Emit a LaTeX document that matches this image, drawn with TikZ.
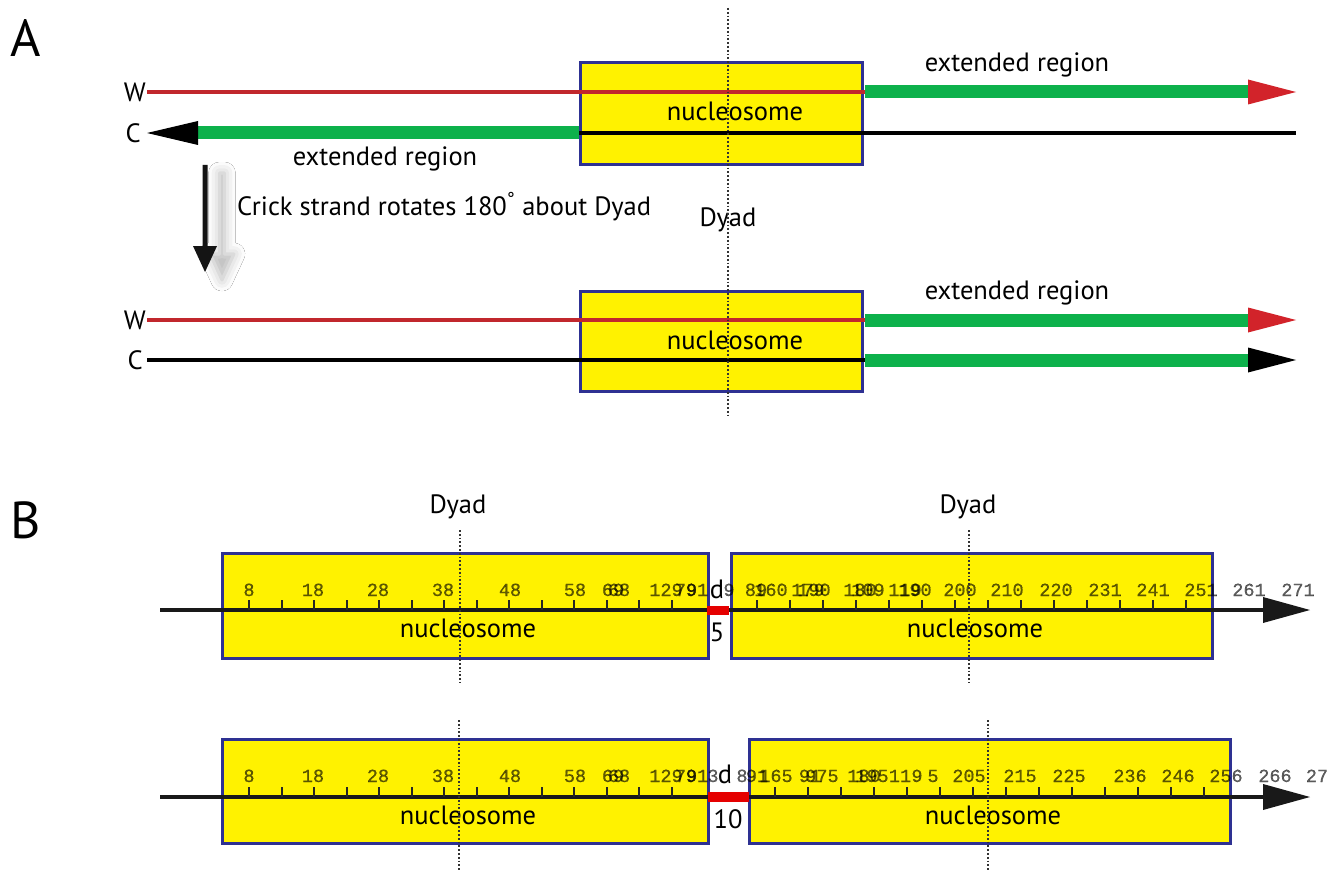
\documentclass[tikz,border=0pt]{standalone}
\usepackage{fontspec}
\setmainfont{PT Sans}
\newfontfamily\monof[FakeBold=0.6]{Liberation Mono}
\usetikzlibrary{shadows.blur}
\definecolor{nucY}{HTML}{FFF200}
\definecolor{nucB}{HTML}{2E3192}
\definecolor{wred}{HTML}{C1272D}
\definecolor{extg}{HTML}{0DB14B}
\definecolor{arrred}{HTML}{D2232A}
\tikzset{
  nucbox/.style={draw=nucB, line width=3pt, fill=nucY, inner sep=0pt},
  lbl/.style={font=\fontsize{26.5}{30}\selectfont, inner sep=0pt, anchor=base},
  big/.style={font=\fontsize{52}{58}\selectfont, inner sep=0pt, anchor=base},
  ticklbl/.style={font=\monof\fontsize{18.5}{20}\selectfont, inner sep=0pt, anchor=base, text=black, text opacity=0.62},
  wstrand/.style={wred, line width=3.2pt},
  cstrand/.style={black, line width=3.5pt},
  ext/.style={extg, line width=13pt},
  dyadline/.style={line width=1.8pt, dotted, black!80},
  axisline/.style={line width=4pt, black!90},
  tickmark/.style={line width=2pt, black!85},
  gapbar/.style={red!90!black, line width=9pt},
}
\begin{document}
\begin{tikzpicture}[x=1pt,y=-1pt]
\useasboundingbox (0,0) rectangle (1339,872);
\fill[white] (0,0) rectangle (1339,872);

% ================= Panel A =================
\node[big] (labA) at (26,57) {A};

% boxes
\node[nucbox, minimum width=282pt, minimum height=102pt] (boxA1) at (721,114) {};
\node[nucbox, minimum width=282pt, minimum height=100pt] (boxA2) at (721,341) {};

% top pair of strands
\node[lbl, anchor=east] (W1) at (146,92) {W};
\node[lbl, anchor=east] (C1) at (141,133) {C};
\coordinate (w1s) at (147,92);
\coordinate (w1m) at (865,92);
\coordinate (w1e) at (1250,92);
\coordinate (w1t) at (1296,92);
\draw[wstrand] (w1s) -- (w1m);
\draw[ext] (w1m) -- (w1e);
\fill[arrred] (1248,79.5) -- (w1t) -- (1248,104.5) -- cycle;

\coordinate (c1t) at (147,133);
\coordinate (c1b) at (197,133);
\coordinate (c1m) at (579,133);
\coordinate (c1e) at (1296,133);
\draw[ext] (c1b) -- (c1m);
\draw[cstrand] (c1m) -- (c1e);
\fill[black] (c1t) -- (198,121) -- (198,145) -- cycle;

\node[lbl] (ext1) at (1017,72) {extended region};
\node[lbl] (ext2) at (385,166) {extended region};

% rotation arrow
\fill[black!92, blur shadow={shadow xshift=17pt, shadow yshift=-8pt, shadow blur radius=11pt, shadow opacity=28}]
  (202.5,165) -- (207.5,165) -- (207.5,246) -- (217,246) -- (205,272) -- (193,246) -- (202.5,246) -- cycle;
\node[lbl, anchor=base west] (crick) at (237,215) {Crick strand rotates 180\textsuperscript{°} about Dyad};
\node[lbl] (dyadA) at (728,226) {Dyad};

% bottom pair of strands
\node[lbl, anchor=east] (W2) at (146,320) {W};
\node[lbl, anchor=east] (C2) at (143,360) {C};
\coordinate (w2s) at (147,320);
\coordinate (w2m) at (865,320);
\coordinate (w2e) at (1250,320);
\coordinate (w2t) at (1296,320);
\draw[wstrand] (w2s) -- (w2m);
\draw[ext] (w2m) -- (w2e);
\fill[arrred] (1248,307.5) -- (w2t) -- (1248,332.5) -- cycle;
\coordinate (c2s) at (147,360);
\coordinate (c2m) at (865,360);
\coordinate (c2e) at (1250,360);
\coordinate (c2t) at (1296,360);
\draw[cstrand] (c2s) -- (c2m);
\draw[ext] (c2m) -- (c2e);
\fill[black] (1248,347.5) -- (c2t) -- (1248,372.5) -- cycle;
\node[lbl] (ext3) at (1017,299) {extended region};

\node[lbl] (nucA1) at (735,121) {nucleosome};
\node[lbl] (nucA2) at (735,349) {nucleosome};

\coordinate (dA1) at (728,8);
\coordinate (dA2) at (728,415);
\draw[dyadline] (dA1) -- (dA2);

% ================= Panel B =================
\node[big] (labB) at (26,538) {B};
\node[lbl] (dyadB1) at (458,513) {Dyad};
\node[lbl] (dyadB2) at (968,513) {Dyad};

% row 1
\node[nucbox, minimum width=486pt, minimum height=105pt] (b11) at (465,605.5) {};
\node[nucbox, minimum width=481pt, minimum height=105pt] (b12) at (971.5,605.5) {};
\coordinate (r1s) at (160,610);
\coordinate (r1e) at (1265,610);
\coordinate (r1t) at (1310,610);
\draw[axisline] (r1s) -- (r1e);
\fill[black!90] (1263,597) -- (r1t) -- (1263,623) -- cycle;
\coordinate (g1a) at (707,610);
\coordinate (g1b) at (729,610);
\draw[gapbar] (g1a) -- (g1b);
\foreach \k in {0,...,13} {
  \draw[tickmark] (249+32.5*\k,610) -- (249+32.5*\k,600);
  \draw[tickmark] (757+33*\k,610) -- (757+33*\k,600);
}
\foreach \x/\t [count=\i] in {249/8,313/18,378/28,443/38,510/48,575/58,613/69,619/68,666/129,686/79,697/91,
  729/9,756/89,771/160,808/179,814/190,860/180,868/109,905/119,915/190,960/200,1007/210,1056/220,1105/231,1153/241,1201/251,1249/261,1298/271}
  \node[ticklbl] (ta\i) at (\x,596) {\t};
\node[lbl] (d1) at (717,598) {d};
\node[lbl] (n5) at (717,641) {5};
\node[lbl] (nucB11) at (468,637) {nucleosome};
\node[lbl] (nucB12) at (975,637) {nucleosome};

% row 2
\node[nucbox, minimum width=486pt, minimum height=104pt] (b21) at (465,791) {};
\node[nucbox, minimum width=481pt, minimum height=104pt] (b22) at (989.5,791) {};
\coordinate (r2s) at (160,797);
\coordinate (r2e) at (1265,797);
\coordinate (r2t) at (1310,797);
\draw[axisline] (r2s) -- (r2e);
\fill[black!90] (1263,784) -- (r2t) -- (1263,810) -- cycle;
\coordinate (g2a) at (708,797);
\coordinate (g2b) at (749,797);
\draw[gapbar, line width=10pt] (g2a) -- (g2b);
\foreach \k in {0,...,13} {
  \draw[tickmark] (249+32.5*\k,797) -- (249+32.5*\k,787);
  \draw[tickmark] (775+33*\k,797) -- (775+33*\k,787);
}
\foreach \x/\t [count=\i] in {249/8,313/18,378/28,443/38,510/48,575/58,613/69,619/68,666/129,686/79,697/91,
  713/3,742/8,757/91,776/165,810/91,822/975,864/180,872/195,900/11,917/9,933/5,969/205,1020/215,1069/225,1130/236,1178/246,1226/256,1275/266,1317/27}
  \node[ticklbl] (tb\i) at (\x,782) {\t};
\node[lbl] (d2) at (725,783) {d};
\node[lbl] (n10) at (728,828) {10};
\node[lbl] (nucB21) at (468,824) {nucleosome};
\node[lbl] (nucB22) at (993,824) {nucleosome};

% dyad lines panel B
\coordinate (dB1a) at (460,530); \coordinate (dB1b) at (460,683);
\coordinate (dB2a) at (969,530); \coordinate (dB2b) at (969,683);
\coordinate (dB3a) at (459,720); \coordinate (dB3b) at (459,872);
\coordinate (dB4a) at (988,720); \coordinate (dB4b) at (988,872);
\draw[dyadline] (dB1a) -- (dB1b);
\draw[dyadline] (dB2a) -- (dB2b);
\draw[dyadline] (dB3a) -- (dB3b);
\draw[dyadline] (dB4a) -- (dB4b);
\end{tikzpicture}
\end{document}
